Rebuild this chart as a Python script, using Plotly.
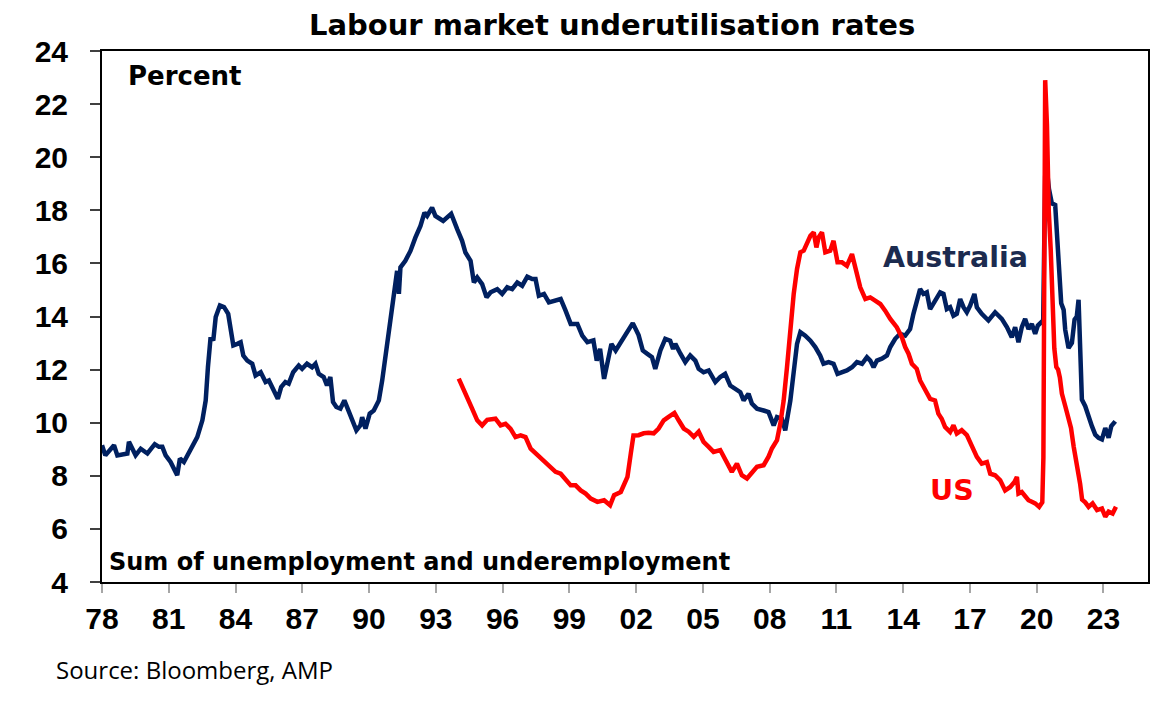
import plotly.graph_objects as go

# Australia: underutilisation rate (%)
aus_year = [
    1978.00, 1978.15, 1978.54, 1978.69, 1979.14, 1979.21, 1979.51, 1979.74, 1980.04, 1980.37,
    1980.56, 1980.71, 1980.86, 1981.08, 1981.38, 1981.50, 1981.68, 1981.98, 1982.28, 1982.51,
    1982.66, 1982.76, 1982.88, 1983.00, 1983.11, 1983.30, 1983.48, 1983.67, 1983.90, 1984.08,
    1984.23, 1984.35, 1984.53, 1984.75, 1984.90, 1985.13, 1985.35, 1985.50, 1985.72, 1985.90,
    1986.05, 1986.24, 1986.39, 1986.59, 1986.84, 1986.99, 1987.21, 1987.44, 1987.59, 1987.74,
    1987.96, 1988.11, 1988.26, 1988.38, 1988.53, 1988.71, 1988.89, 1989.08, 1989.24, 1989.43,
    1989.61, 1989.69, 1989.84, 1990.03, 1990.21, 1990.44, 1990.59, 1990.81, 1991.04, 1991.19,
    1991.26, 1991.34, 1991.41, 1991.63, 1991.86, 1992.08, 1992.31, 1992.49, 1992.61, 1992.83,
    1992.98, 1993.33, 1993.51, 1993.69, 1993.96, 1994.18, 1994.33, 1994.56, 1994.71, 1994.86,
    1995.08, 1995.28, 1995.46, 1995.76, 1995.98, 1996.21, 1996.43, 1996.66, 1996.88, 1997.11,
    1997.33, 1997.48, 1997.63, 1997.86, 1998.08, 1998.31, 1998.61, 1998.83, 1999.06, 1999.36,
    1999.58, 1999.81, 2000.08, 2000.23, 2000.38, 2000.56, 2000.71, 2000.89, 2001.08, 2001.31,
    2001.53, 2001.85, 2002.11, 2002.30, 2002.49, 2002.71, 2002.86, 2003.09, 2003.31, 2003.53,
    2003.66, 2003.76, 2003.99, 2004.21, 2004.43, 2004.66, 2004.81, 2005.03, 2005.26, 2005.56,
    2005.78, 2006.00, 2006.23, 2006.45, 2006.68, 2006.83, 2007.05, 2007.20, 2007.43, 2007.73,
    2007.95, 2008.18, 2008.33, 2008.55, 2008.70, 2008.93, 2009.08, 2009.23, 2009.38, 2009.60,
    2009.83, 2010.05, 2010.27, 2010.42, 2010.65, 2010.87, 2011.05, 2011.25, 2011.47, 2011.70,
    2011.92, 2012.15, 2012.37, 2012.52, 2012.67, 2012.82, 2013.04, 2013.27, 2013.42, 2013.64,
    2013.86, 2014.09, 2014.31, 2014.46, 2014.69, 2014.76, 2014.91, 2015.06, 2015.21, 2015.43,
    2015.66, 2015.81, 2015.96, 2016.11, 2016.26, 2016.41, 2016.56, 2016.71, 2016.86, 2017.01,
    2017.20, 2017.31, 2017.53, 2017.83, 2018.13, 2018.43, 2018.66, 2018.88, 2019.03, 2019.18,
    2019.33, 2019.48, 2019.63, 2019.78, 2019.93, 2020.05, 2020.29, 2020.38, 2020.46, 2020.55,
    2020.68, 2020.83, 2020.91, 2021.01, 2021.10, 2021.21, 2021.28, 2021.43, 2021.58, 2021.70,
    2021.80, 2021.88, 2021.95, 2022.03, 2022.18, 2022.33, 2022.48, 2022.63, 2022.78, 2022.93,
    2023.08, 2023.23, 2023.35, 2023.53,
]
aus_rate = [
    9.15, 8.77, 9.15, 8.77, 8.84, 9.28, 8.77, 9.02, 8.84, 9.19,
    9.09, 9.09, 8.77, 8.52, 8.02, 8.65, 8.52, 8.96, 9.46, 10.09,
    10.84, 12.09, 13.22, 13.10, 13.98, 14.42, 14.36, 14.10, 12.91, 12.97,
    13.03, 12.53, 12.34, 12.22, 11.78, 11.90, 11.53, 11.59, 11.21, 10.90,
    11.34, 11.53, 11.47, 11.90, 12.15, 12.03, 12.22, 12.09, 12.22, 11.84,
    11.72, 11.40, 11.72, 10.78, 10.59, 10.53, 10.84, 10.40, 10.09, 9.71,
    9.90, 10.21, 9.78, 10.34, 10.46, 10.84, 11.59, 12.97, 14.10, 15.10,
    15.72, 14.85, 15.85, 16.10, 16.47, 16.97, 17.41, 17.91, 17.79, 18.10,
    17.79, 17.60, 17.72, 17.87, 17.29, 16.85, 16.41, 16.10, 15.28, 15.47,
    15.22, 14.72, 14.91, 15.03, 14.85, 15.10, 15.03, 15.28, 15.16, 15.50,
    15.41, 15.41, 14.78, 14.85, 14.53, 14.60, 14.66, 14.22, 13.72, 13.72,
    13.28, 13.03, 13.10, 12.34, 12.78, 11.65, 12.22, 12.97, 12.72, 13.03,
    13.28, 13.75, 13.30, 12.72, 12.60, 12.47, 12.03, 12.72, 13.16, 13.09,
    12.78, 12.97, 12.60, 12.28, 12.53, 12.34, 12.03, 11.90, 11.97, 11.53,
    11.72, 11.84, 11.40, 11.28, 11.15, 10.84, 11.09, 10.72, 10.53, 10.46,
    10.40, 9.90, 10.21, 10.15, 9.71, 10.84, 11.84, 12.97, 13.41, 13.28,
    13.09, 12.85, 12.53, 12.22, 12.28, 12.22, 11.84, 11.90, 11.97, 12.09,
    12.28, 12.22, 12.47, 12.34, 12.09, 12.34, 12.41, 12.53, 12.85, 13.16,
    13.35, 13.28, 13.53, 14.10, 14.85, 15.03, 14.85, 14.91, 14.28, 14.60,
    14.91, 14.85, 14.28, 14.35, 14.03, 14.10, 14.66, 14.35, 14.16, 14.41,
    14.85, 14.35, 14.10, 13.85, 14.16, 13.91, 13.60, 13.22, 13.60, 13.03,
    13.60, 13.91, 13.53, 13.72, 13.35, 13.66, 13.85, 19.30, 19.50, 18.80,
    18.26, 18.20, 17.00, 15.50, 14.50, 14.25, 13.50, 12.81, 13.00, 13.88,
    14.00, 14.63, 12.75, 10.87, 10.62, 10.18, 9.87, 9.55, 9.43, 9.37,
    9.80, 9.43, 9.87, 10.05,
]

# US: U-6 underutilisation rate (%)
us_year = [
    1994.03, 1994.18, 1994.41, 1994.63, 1994.86, 1995.08, 1995.31, 1995.68, 1995.91, 1996.13,
    1996.36, 1996.58, 1996.81, 1997.03, 1997.26, 1997.48, 1997.71, 1997.93, 1998.16, 1998.38,
    1998.61, 1998.83, 1999.06, 1999.28, 1999.51, 1999.73, 1999.96, 2000.26, 2000.56, 2000.83,
    2001.01, 2001.31, 2001.46, 2001.61, 2001.76, 2001.88, 2002.11, 2002.34, 2002.56, 2002.79,
    2003.01, 2003.24, 2003.46, 2003.72, 2003.91, 2004.14, 2004.36, 2004.59, 2004.81, 2005.03,
    2005.26, 2005.48, 2005.78, 2006.00, 2006.30, 2006.53, 2006.75, 2006.98, 2007.20, 2007.43,
    2007.73, 2007.95, 2008.10, 2008.33, 2008.48, 2008.63, 2008.78, 2008.93, 2009.08, 2009.23,
    2009.38, 2009.53, 2009.68, 2009.83, 2009.98, 2010.10, 2010.20, 2010.35, 2010.50, 2010.72,
    2010.87, 2011.05, 2011.25, 2011.47, 2011.70, 2011.85, 2012.07, 2012.30, 2012.52, 2012.74,
    2012.97, 2013.19, 2013.42, 2013.71, 2013.94, 2014.09, 2014.24, 2014.39, 2014.61, 2014.76,
    2014.91, 2015.06, 2015.21, 2015.43, 2015.58, 2015.73, 2015.88, 2016.11, 2016.26, 2016.41,
    2016.63, 2016.86, 2017.08, 2017.31, 2017.53, 2017.76, 2017.91, 2018.13, 2018.36, 2018.58,
    2018.81, 2019.00, 2019.11, 2019.18, 2019.33, 2019.48, 2019.63, 2019.78, 2019.93, 2020.11,
    2020.25, 2020.30, 2020.38, 2020.46, 2020.54, 2020.63, 2020.71, 2020.79, 2020.88, 2020.96,
    2021.04, 2021.13, 2021.29, 2021.43, 2021.54, 2021.66, 2021.79, 2021.95, 2022.04, 2022.18,
    2022.33, 2022.51, 2022.71, 2022.93, 2023.08, 2023.23, 2023.41, 2023.56,
]
us_rate = [
    11.66, 11.35, 10.97, 10.53, 10.09, 9.90, 10.11, 10.15, 9.90, 9.96,
    9.77, 9.46, 9.52, 9.46, 9.02, 8.84, 8.65, 8.46, 8.33, 8.15,
    8.08, 7.83, 7.64, 7.64, 7.45, 7.33, 7.14, 7.02, 7.08, 6.89,
    7.27, 7.39, 7.71, 7.96, 8.84, 9.52, 9.53, 9.60, 9.62, 9.60,
    9.78, 10.09, 10.22, 10.37, 10.09, 9.78, 9.66, 9.47, 9.66, 9.28,
    9.09, 8.90, 8.97, 8.59, 8.15, 8.46, 8.02, 7.90, 8.15, 8.34,
    8.40, 8.72, 9.03, 9.34, 9.97, 10.84, 12.10, 13.60, 14.85, 15.79,
    16.42, 16.48, 16.73, 17.04, 17.17, 16.60, 16.98, 17.17, 16.42, 16.48,
    16.85, 16.04, 16.04, 15.91, 16.35, 15.85, 15.10, 14.66, 14.72, 14.60,
    14.47, 14.22, 13.91, 13.60, 13.22, 12.85, 12.60, 12.22, 12.03, 11.59,
    11.34, 11.15, 10.90, 10.84, 10.34, 10.15, 9.84, 9.65, 9.90, 9.59,
    9.72, 9.53, 9.09, 8.71, 8.46, 8.52, 8.08, 8.02, 7.83, 7.45,
    7.58, 7.77, 7.96, 7.33, 7.39, 7.20, 7.08, 7.02, 6.96, 6.83,
    7.00, 8.70, 22.90, 21.20, 18.00, 16.50, 14.20, 12.80, 12.10, 12.00,
    11.70, 11.10, 10.60, 10.20, 9.80, 9.10, 8.50, 7.70, 7.10, 7.00,
    6.83, 6.96, 6.71, 6.77, 6.46, 6.65, 6.58, 6.83,
]

tick_years = list(range(1978, 2024, 3))
tick_labels = [str(y)[2:] for y in tick_years]

NAVY = "#002060"
RED = "#FF0000"

fig = go.Figure()
fig.add_trace(go.Scatter(x=aus_year, y=aus_rate, mode="lines", name="Australia",
                         line=dict(color=NAVY, width=4.5)))
fig.add_trace(go.Scatter(x=us_year, y=us_rate, mode="lines", name="US",
                         line=dict(color=RED, width=4.5)))

bold = dict(family="DejaVu Sans", color="black")

# the page body adds an 8px offset, so margins are trimmed by that amount
fig.update_layout(
    width=1173, height=707,
    margin=dict(l=94, r=33, t=43, b=133),
    paper_bgcolor="white", plot_bgcolor="white",
    showlegend=False,
    title=dict(text="<b>Labour market underutilisation rates</b>",
               x=0.515, xanchor="center", y=0.976, yanchor="middle",
               font=dict(bold, size=29)),
    annotations=[
        dict(text="<b>Percent</b>", xref="paper", yref="paper", x=0.023, y=0.953,
             xanchor="left", yanchor="middle", showarrow=False, font=dict(bold, size=26)),
        dict(text="<b>Sum of unemployment and underemployment</b>", xref="paper", yref="paper",
             x=0.005, y=0.038, xanchor="left", yanchor="middle", showarrow=False,
             font=dict(bold, size=24)),
        dict(text="<b>Australia</b>", xref="paper", yref="paper", x=0.745, y=0.611,
             xanchor="left", yanchor="middle", showarrow=False,
             font=dict(family="DejaVu Sans", size=28.5, color="#1C2B4F")),
        dict(text="<b>US</b>", xref="paper", yref="paper", x=0.79, y=0.173,
             xanchor="left", yanchor="middle", showarrow=False,
             font=dict(family="DejaVu Sans", size=28.5, color=RED)),
        dict(text="Source: Bloomberg, AMP", xref="paper", yref="paper", x=-0.046, y=-0.165,
             xanchor="left", yanchor="middle", showarrow=False,
             font=dict(family="Open Sans", size=24, color="black")),
    ],
)

fig.update_xaxes(
    range=[1978, 2025.0], tickvals=tick_years, ticktext=tick_labels,
    showgrid=False, zeroline=False,
    showline=True, linecolor="black", linewidth=2, mirror=True,
    ticks="outside", ticklen=9, tickcolor="#A6A6A6", tickwidth=1.5,
    ticklabelstandoff=0,
    tickfont=dict(family="Liberation Sans", size=30, color="black", weight="bold"),
)
fig.update_yaxes(
    range=[4, 24], dtick=2,
    showgrid=False, zeroline=False,
    showline=True, linecolor="black", linewidth=2, mirror=True,
    ticks="outside", ticklen=10, tickcolor="#404040", tickwidth=1.5,
    ticklabelstandoff=16,
    tickfont=dict(family="Liberation Sans", size=30, color="black", weight="bold"),
)

fig.write_html("out.html")
